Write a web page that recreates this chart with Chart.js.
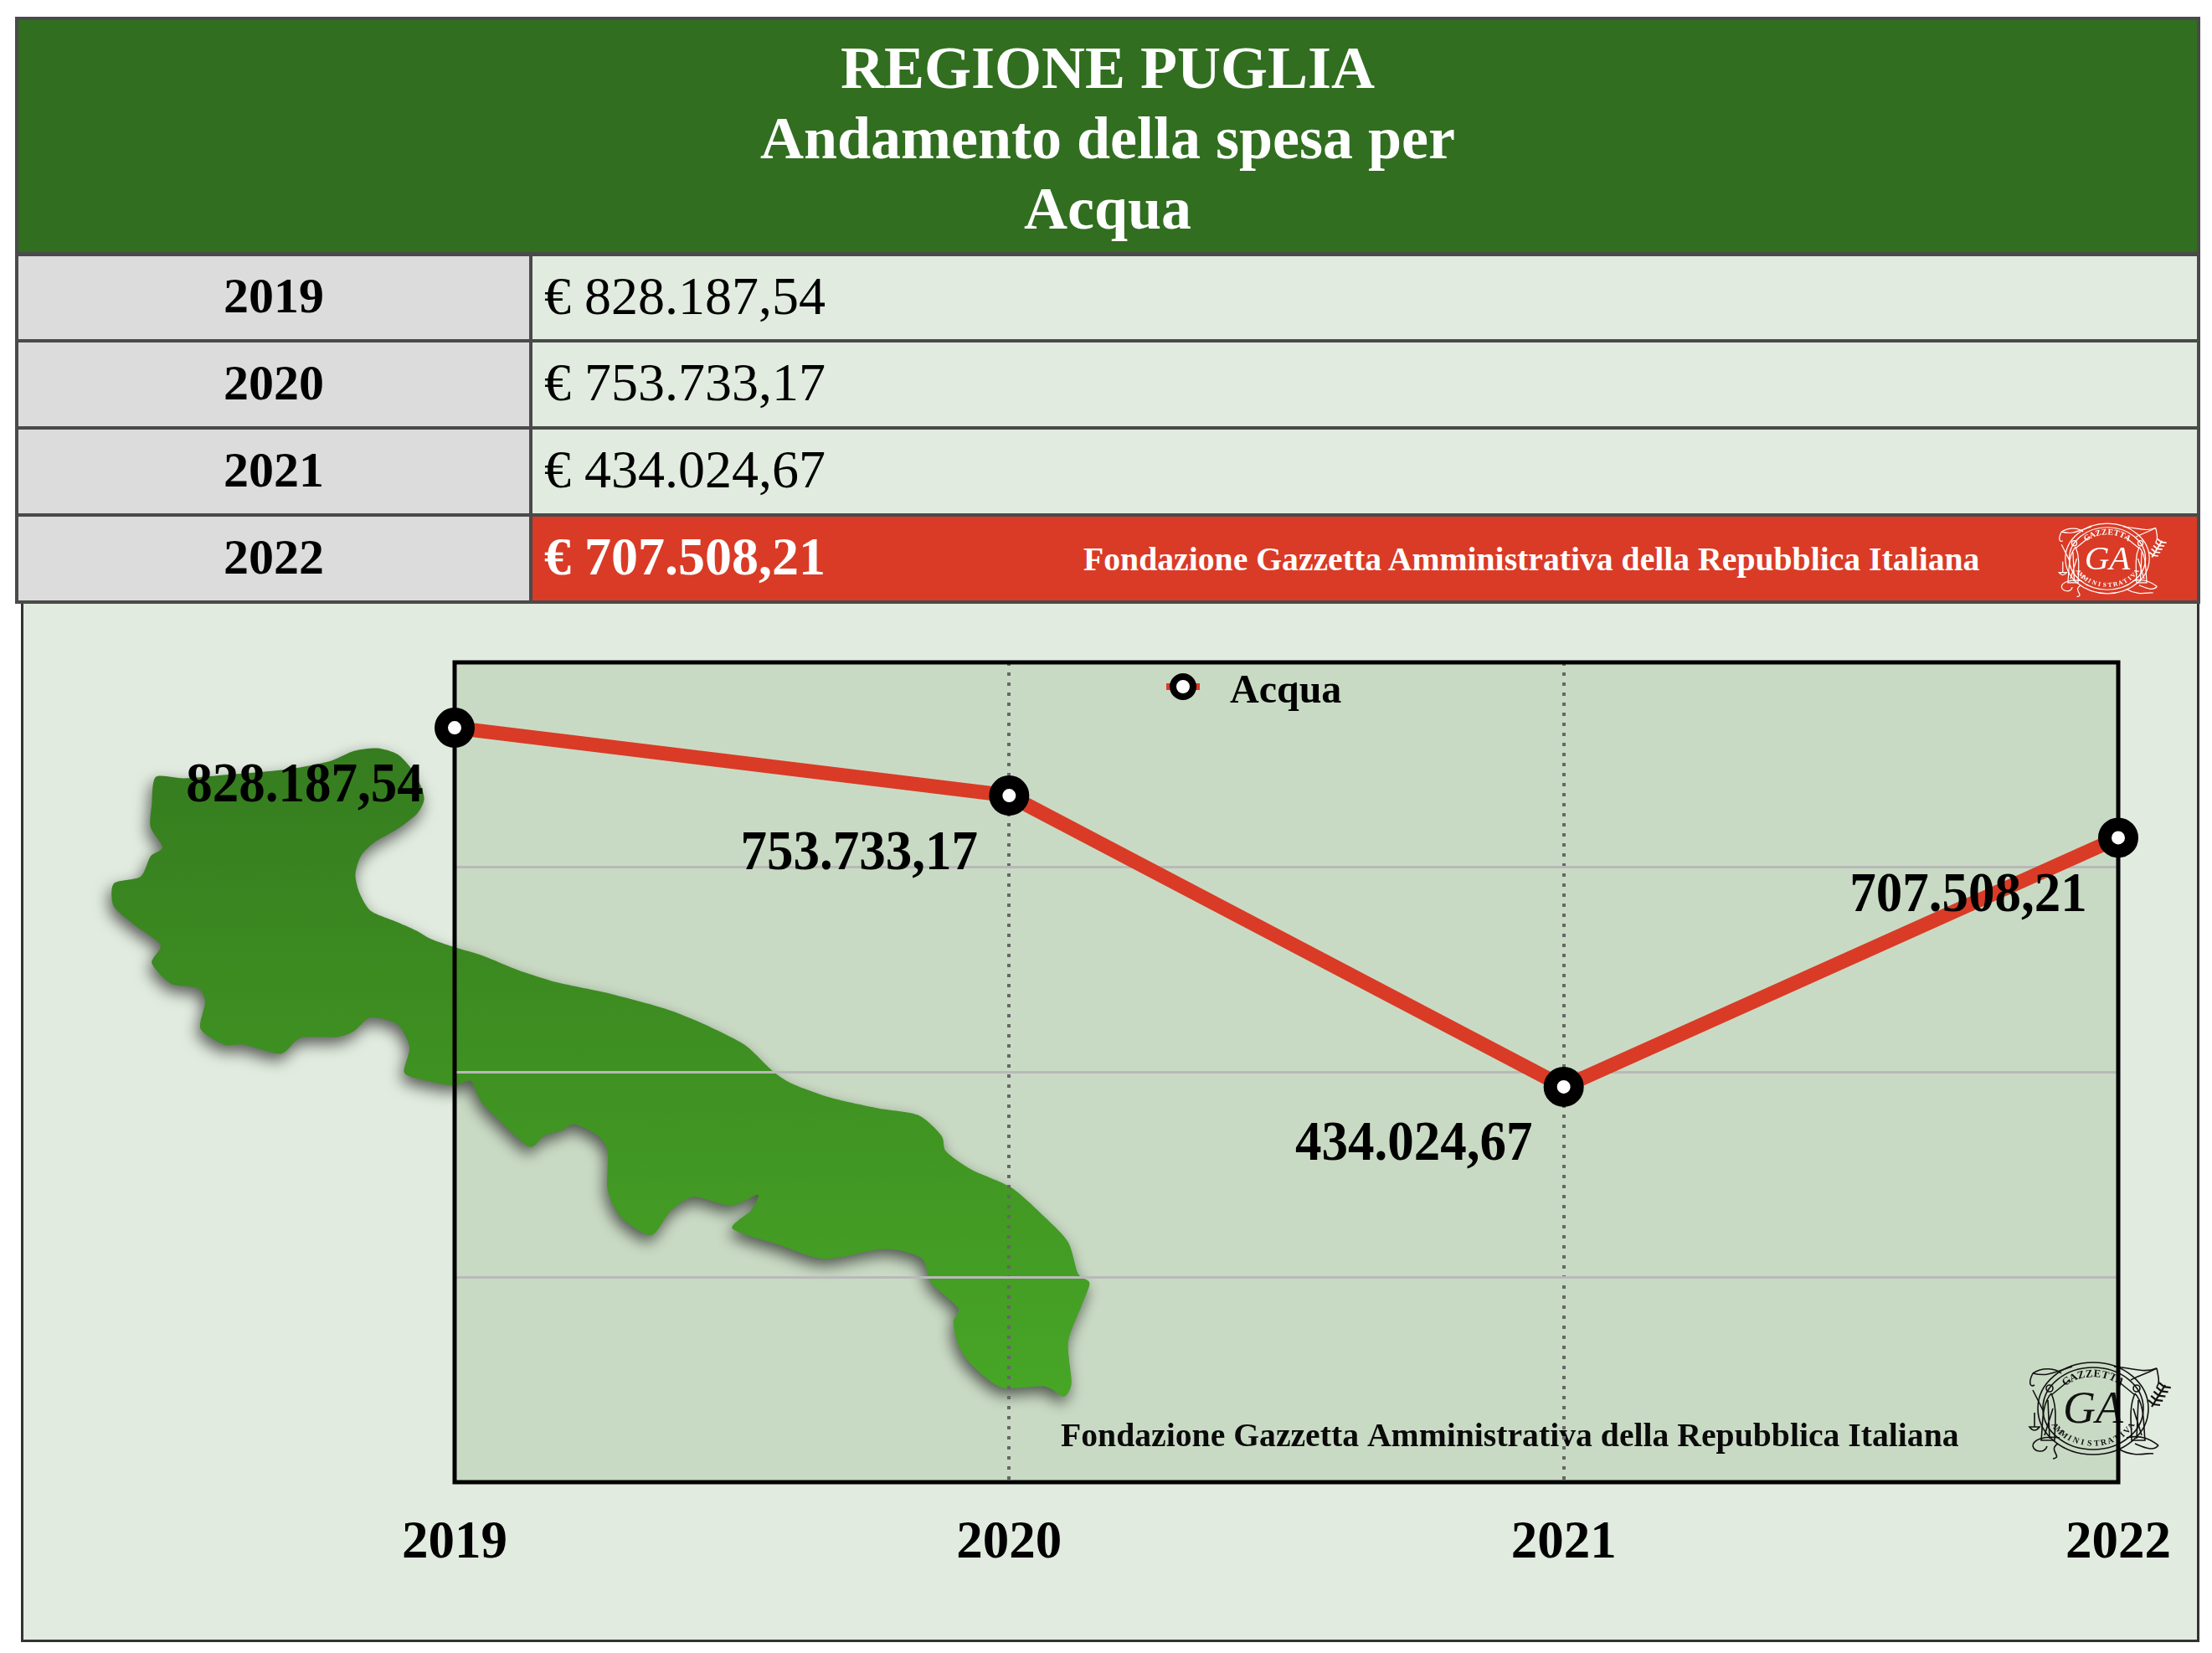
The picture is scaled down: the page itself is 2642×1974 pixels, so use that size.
<!DOCTYPE html>
<html>
<head>
<meta charset="utf-8">
<title>Regione Puglia - Acqua</title>
<script src="https://cdn.jsdelivr.net/npm/chart.js@4"></script>
<style>
  html, body { margin: 0; padding: 0; background: #fff; }
  body { position: relative; width: 2642px; height: 1974px; overflow: hidden; font-family: "Liberation Serif", serif; color: #000; }
  .box { position: absolute; box-sizing: border-box; }
  #head { left: 18px; top: 20px; width: 2610px; height: 285px; background: #316e20; border: 4px solid #4a4a4a; color: #fff; font-weight: bold; font-size: 72px; text-align: center; line-height: 84px; padding-top: 15px; }
  .year { left: 18px; width: 618px; background: #dcdcdc; border: 4px solid #4a4a4a; font-weight: bold; font-size: 60px; text-align: center; }
  .val { left: 632px; width: 1996px; background: #e1ebdf; border: 4px solid #4a4a4a; font-size: 64px; padding-left: 14px; }
  .val.last { background: #da3b26; color: #fff; font-weight: bold; }
  .val span { position: absolute; left: 658px; top: 0; font-size: 39.7px; line-height: 102px; white-space: nowrap; }
  #panel { left: 25px; top: 718px; width: 2602px; height: 1243px; background: #e1ebdf; border: 3px solid #333; }
  #chart { position: absolute; left: 0; top: 0; }
</style>
</head>
<body>
<div id="panel" class="box"></div>
<div id="head" class="box">REGIONE PUGLIA<br>Andamento della spesa per<br>Acqua</div>
<div id="rows"></div>
<canvas id="chart" width="2642" height="1974"></canvas>

<script>
//------------------ Data ------------------//
const years = ['2019', '2020', '2021', '2022'];
const acquaValues = [828187.54, 753733.17, 434024.67, 707508.21];
const valueLabels = ['828.187,54', '753.733,17', '434.024,67', '707.508,21'];
const yTickLabels = { 0: '0', 225000: '225.000', 450000: '450.000', 675000: '675.000', 900000: '900.000' };
const seriesName = 'Acqua';
const creditText = 'Fondazione Gazzetta Amministrativa della Repubblica Italiana';

// Puglia outline (crop coords, see mapX / mapY)
const pugliaOutline = [
  [108,125],[150,128],[200,122],[260,115],[320,105],[370,90],[405,68],[440,62],[470,75],[490,105],[505,145],[510,175],
  [500,205],[470,240],[435,270],[415,300],[407,340],[413,380],[430,420],[470,445],[500,465],[520,482],[555,500],[600,520],
  [650,550],[710,578],[790,603],[870,635],[930,670],[990,715],[1030,770],[1060,800],[1120,832],[1190,855],[1250,870],
  [1285,915],[1292,950],[1330,990],[1390,1030],[1440,1095],[1475,1150],[1490,1220],[1507,1240],[1495,1290],[1475,1370],
  [1480,1460],[1468,1490],[1440,1468],[1375,1470],[1330,1420],[1310,1375],[1303,1325],[1310,1295],[1270,1240],[1255,1185],
  [1200,1165],[1110,1187],[1040,1155],[972,1120],[1000,1080],[1010,1045],[970,1070],[915,1050],[880,1080],[850,1135],
  [805,1095],[785,1035],[785,950],[770,915],[735,890],[715,905],[690,915],[668,940],[625,885],[595,840],[580,795],
  [553,805],[500,790],[480,775],[488,720],[470,670],[430,655],[405,685],[380,698],[325,700],[295,735],[240,715],[210,715],
  [175,680],[182,620],[170,590],[130,580],[102,535],[115,495],[75,450],[45,410],[45,360],[85,345],[100,300],[118,280],
  [100,235],[102,185]
];
const mapX = v => 100 + v / 1.2544;
const mapY = v => 860 + v / 1.8447;

//------------------ Table rows ------------------//
const rows = document.getElementById('rows');
const rowTops = [302, 405, 509, 613];
years.forEach((y, i) => {
  const h = i === 0 ? 107 : 108;
  const left = document.createElement('div');
  left.className = 'box year';
  left.style.cssText = `top:${rowTops[i]}px;height:${h}px;line-height:${h - 12}px`;
  left.textContent = y;
  rows.appendChild(left);

  const right = document.createElement('div');
  right.className = 'box val' + (i === years.length - 1 ? ' last' : '');
  right.style.cssText = `top:${rowTops[i]}px;height:${h}px;line-height:${h - 12}px`;
  right.textContent = '€ ' + valueLabels[i];
  if (i === years.length - 1) {
    const credit = document.createElement('span');
    credit.textContent = creditText;
    right.appendChild(credit);
  }
  rows.appendChild(right);
});

//------------------ Drawing helpers ------------------//
function drawMap(ctx) {
  const pts = pugliaOutline.map(p => [mapX(p[0]), mapY(p[1])]);
  const path = new Path2D();
  const n = pts.length;
  const at = i => pts[(i + n) % n];
  path.moveTo(pts[0][0], pts[0][1]);
  // closed spline through the traced points, keeps the capes pointed
  pts.forEach((p, i) => {
    const prev = at(i - 1), q = at(i + 1), next = at(i + 2);
    path.bezierCurveTo(
      p[0] + (q[0] - prev[0]) / 8, p[1] + (q[1] - prev[1]) / 8,
      q[0] - (next[0] - p[0]) / 8, q[1] - (next[1] - p[1]) / 8,
      q[0], q[1]
    );
  });
  path.closePath();
  const grad = ctx.createLinearGradient(0, 890, 0, 1670);
  grad.addColorStop(0, '#357c1f');
  grad.addColorStop(0.5, '#3f9122');
  grad.addColorStop(1, '#47a626');
  ctx.save();
  ctx.shadowColor = 'rgba(0,0,0,0.6)';
  ctx.shadowBlur = 18;
  ctx.shadowOffsetX = -3;
  ctx.shadowOffsetY = 8;
  ctx.fillStyle = grad;
  ctx.fill(path);
  ctx.restore();
}

function arcText(ctx, text, rx, ry, startDeg, endDeg, font, flip) {
  ctx.font = font;
  ctx.textAlign = 'center';
  ctx.textBaseline = 'middle';
  [...text].forEach((ch, i) => {
    const a = (startDeg + (endDeg - startDeg) * i / (text.length - 1)) * Math.PI / 180;
    ctx.save();
    ctx.translate(rx * Math.cos(a), ry * Math.sin(a));
    ctx.rotate(a + (flip ? -Math.PI / 2 : Math.PI / 2));
    ctx.fillText(ch, 0, 0);
    ctx.restore();
  });
}

// Rough redraw of the GA seal: ring, ribbons, two figures, olive branch
function drawSeal(ctx, cx, cy, s, color) {
  ctx.save();
  ctx.translate(cx, cy);
  ctx.scale(s, s);
  ctx.strokeStyle = color;
  ctx.fillStyle = color;
  ctx.lineWidth = 1.6;
  [[66, 55], [60, 49]].forEach(r => {
    ctx.beginPath();
    ctx.ellipse(0, 0, r[0], r[1], 0, 0, Math.PI * 2);
    ctx.stroke();
  });
  const curves = [
    [-25,-50,-50,-42,-55,-38,-72,-42], [-72,-42,-78,-30,-75,-25,-70,-28], [-72,-42,-60,-50,-45,-48,-38,-42],
    [25,-50,50,-48,60,-42,76,-48], [76,-48,78,-38,80,-30,76,-26], [76,-48,60,-40,52,-38,45,-34],
    [-40,35,-60,32,-72,38,-72,45], [-72,45,-70,52,-58,54,-55,45], [-42,42,-55,50,-35,58,-48,60],
    [40,35,60,30,72,40,78,44], [78,44,72,52,60,46,50,42], [30,48,50,60,65,52,72,54]
  ];
  curves.forEach(c => {
    ctx.beginPath();
    ctx.moveTo(c[0], c[1]);
    ctx.bezierCurveTo(c[2], c[3], c[4], c[5], c[6], c[7]);
    ctx.stroke();
  });
  // figures
  [-1, 1].forEach(side => {
    ctx.beginPath();
    ctx.arc(side * 52, -24, 4, 0, Math.PI * 2);
    ctx.moveTo(side * 50, -18);
    ctx.bezierCurveTo(side * 62, -5, side * 60, 20, side * 62, 38);
    ctx.lineTo(side * 46, 38);
    ctx.bezierCurveTo(side * 46, 20, side * 42, 0, side * 50, -18);
    ctx.moveTo(side * 50, -16);
    ctx.lineTo(side * 28, -34);
    ctx.moveTo(side * 54, -10);
    ctx.lineTo(side * 52, 36);
    ctx.moveTo(side * 48, 0);
    ctx.lineTo(side * 58, 32);
    ctx.stroke();
  });
  // sword and scales on the left
  ctx.beginPath();
  ctx.moveTo(-72, -22);
  ctx.lineTo(-60, 2);
  ctx.moveTo(-70, 5);
  ctx.lineTo(-70, 22);
  ctx.moveTo(-76, 22);
  ctx.quadraticCurveTo(-70, 30, -64, 22);
  ctx.closePath();
  ctx.stroke();
  // olive branch on the right
  ctx.lineWidth = 2.2;
  ctx.beginPath();
  ctx.moveTo(70, -2);
  ctx.lineTo(86, -28);
  for (let i = 0; i < 5; i++) {
    const bx = 72 + i * 3.2, by = -5 - i * 5.2;
    ctx.moveTo(bx, by);
    ctx.lineTo(bx - 6, by - 5);
    ctx.moveTo(bx, by);
    ctx.lineTo(bx + 8, by + 1);
  }
  ctx.stroke();
  // lettering
  ctx.font = 'italic 54px "Liberation Serif"';
  ctx.textAlign = 'center';
  ctx.textBaseline = 'middle';
  ctx.fillText('GA', 0, 3);
  arcText(ctx, 'GAZZETTA', 51, 41, -128, -52, 'bold 13px "Liberation Serif"', false);
  arcText(ctx, 'AMMINISTRATIVA', 53, 42, 150, 30, 'bold 10px "Liberation Serif"', true);
  ctx.restore();
}

//------------------ Plugins ------------------//
const backdrop = {
  id: 'backdrop',
  beforeDraw(chart) {
    const { ctx, chartArea: a } = chart;
    ctx.save();
    ctx.fillStyle = '#c9dac4';
    ctx.fillRect(a.left, a.top, a.right - a.left, a.bottom - a.top);
    drawMap(ctx);
    drawSeal(ctx, 2517, 667, 0.76, '#ffffff');
    drawSeal(ctx, 2500, 1682, 1, '#111111');
    ctx.fillStyle = '#0a0a0a';
    ctx.font = 'bold 39.7px "Liberation Serif"';
    ctx.textAlign = 'left';
    ctx.textBaseline = 'alphabetic';
    ctx.fillText(creditText, 1267, 1727);
    ctx.restore();
  },
  beforeDatasetsDraw(chart) {
    const { ctx, chartArea: a } = chart;
    ctx.save();
    ctx.strokeStyle = '#000';
    ctx.lineWidth = 5;
    ctx.strokeRect(a.left, a.top, a.right - a.left, a.bottom - a.top);
    ctx.restore();
  },
  afterDatasetsDraw(chart) {
    const { ctx } = chart;
    const ds = chart.data.datasets[0];
    ctx.save();
    // value labels, the reference type is a bit taller than it is wide
    ctx.fillStyle = '#000';
    ctx.font = 'bold 63px "Liberation Serif"';
    ctx.textAlign = 'center';
    ctx.textBaseline = 'middle';
    chart.getDatasetMeta(0).data.forEach((pt, i) => {
      ctx.save();
      ctx.translate(pt.x - 179, pt.y + 70);
      ctx.scale(1, 1.08);
      ctx.fillText(valueLabels[i], 0, 0);
      ctx.restore();
    });
    // legend
    ctx.fillStyle = ds.borderColor;
    ctx.fillRect(1393, 816, 40, 8);
    ctx.beginPath();
    ctx.arc(1413, 820, 12, 0, Math.PI * 2);
    ctx.fillStyle = '#fff';
    ctx.fill();
    ctx.lineWidth = 8;
    ctx.strokeStyle = '#000';
    ctx.stroke();
    ctx.fillStyle = '#000';
    ctx.font = 'bold 48px "Liberation Serif"';
    ctx.textAlign = 'left';
    ctx.textBaseline = 'alphabetic';
    ctx.fillText(ds.label, 1469, 839);
    ctx.restore();
  }
};

//------------------ Chart ------------------//
new Chart(document.getElementById('chart'), {
  type: 'line',
  plugins: [backdrop],
  data: {
    labels: years,
    datasets: [{
      label: seriesName,
      data: acquaValues,
      borderColor: '#da3b26',
      borderWidth: 17,
      tension: 0,
      fill: false,
      clip: false,
      pointRadius: 16,
      pointBorderWidth: 16,
      pointBackgroundColor: '#fff',
      pointBorderColor: '#000'
    }]
  },
  options: {
    responsive: false,
    devicePixelRatio: 1,
    animation: false,
    layout: { padding: { left: 523, top: 791, right: 112, bottom: 104 } },
    plugins: { legend: { display: false }, tooltip: { enabled: false } },
    scales: {
      x: {
        offset: false,
        afterFit: s => { s.height = 100; },
        border: { display: false, dash: [4, 8] },
        grid: {
          drawTicks: false,
          lineWidth: 4,
          color: c => (c.index === 0 || c.index === years.length - 1) ? 'transparent' : '#666666'
        },
        ticks: { padding: 36, color: '#000', maxRotation: 0, font: { family: '"Liberation Serif"', size: 63, weight: 'bold' } }
      },
      y: {
        min: 0,
        max: 900000,
        afterFit: s => { s.width = 20; },
        border: { display: false },
        grid: { drawTicks: false, lineWidth: 3, color: '#b9b9b9' },
        ticks: {
          stepSize: 225000,
          padding: 27,
          color: '#666',
          font: { family: '"Liberation Serif"', size: 5 },
          callback: v => yTickLabels[v]
        }
      }
    }
  }
});
</script>
</body>
</html>
